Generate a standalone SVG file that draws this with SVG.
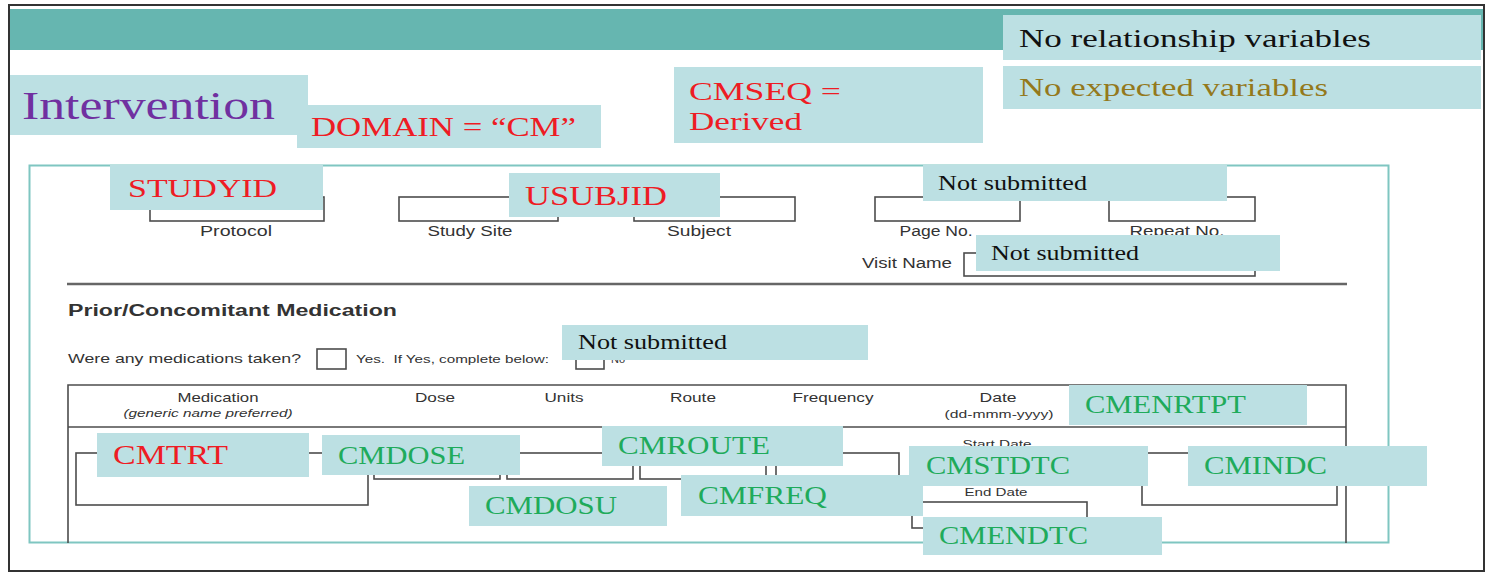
<svg xmlns="http://www.w3.org/2000/svg" width="1489" height="573" viewBox="0 0 1489 573">
<style>
.box{fill:#bce0e3}
.ser{font-family:"Liberation Serif","Times New Roman",serif}
.red{fill:#ee1c24}
.grn{fill:#1fab5b}
.blk{fill:#111}
.frm{fill:none;stroke:#4d4d4d;stroke-width:1.6}
.ftx{font-family:"Liberation Sans",Arial,sans-serif;fill:#333}
</style>
<rect x="0" y="0" width="1489" height="573" fill="#fff"/>
<rect x="9" y="5" width="1475" height="566" fill="#fff" stroke="#333" stroke-width="2"/>
<rect x="10" y="9" width="1473" height="41" fill="#66b6b0"/>

<g id="form">
  <rect x="29.5" y="165.5" width="1359" height="377" fill="none" stroke="#7fc6c1" stroke-width="2"/>
  <rect class="frm" x="150" y="197" width="174" height="24"/>
  <rect class="frm" x="399" y="197" width="159" height="24"/>
  <rect class="frm" x="634" y="197" width="161" height="24"/>
  <rect class="frm" x="875" y="197" width="145" height="24"/>
  <rect class="frm" x="1109" y="197" width="146" height="24"/>
  <rect class="frm" x="964" y="253" width="291" height="23"/>
  <line x1="67" y1="284" x2="1347" y2="284" stroke="#666" stroke-width="2.5"/>
  <rect class="frm" x="317" y="349" width="29" height="20"/>
  <rect class="frm" x="576" y="349" width="28" height="20"/>
  <path class="frm" d="M68,543 V385 H1346 V543 M68,427 H1346"/>
  <rect class="frm" x="76" y="453" width="292" height="52"/>
  <rect class="frm" x="374" y="453" width="126" height="26"/>
  <rect class="frm" x="507" y="453" width="126" height="26"/>
  <rect class="frm" x="640" y="453" width="126" height="26"/>
  <rect class="frm" x="776" y="453" width="123" height="26"/>
  <rect class="frm" x="912" y="502" width="175" height="26"/>
  <rect class="frm" x="1142" y="453" width="195" height="52"/>

  <g class="ftx" font-size="14" text-anchor="middle">
    <text x="236" y="236" textLength="72" lengthAdjust="spacingAndGlyphs">Protocol</text>
    <text x="470" y="236" textLength="85" lengthAdjust="spacingAndGlyphs">Study Site</text>
    <text x="699" y="236" textLength="64" lengthAdjust="spacingAndGlyphs">Subject</text>
    <text x="936" y="236" textLength="73" lengthAdjust="spacingAndGlyphs">Page No.</text>
    <text x="1177" y="236" textLength="95" lengthAdjust="spacingAndGlyphs">Repeat No.</text>
  </g>
  <text class="ftx" x="862" y="268" font-size="14" textLength="90" lengthAdjust="spacingAndGlyphs">Visit Name</text>
  <text class="ftx" x="68" y="316" font-size="16" font-weight="bold" fill="#222" textLength="329" lengthAdjust="spacingAndGlyphs">Prior/Concomitant Medication</text>
  <text class="ftx" x="68" y="363" font-size="13" textLength="233" lengthAdjust="spacingAndGlyphs">Were any medications taken?</text>
  <text class="ftx" x="356" y="363" font-size="11" style="white-space:pre" textLength="193" lengthAdjust="spacingAndGlyphs">Yes.  If Yes, complete below:</text>
  <text class="ftx" x="611" y="363" font-size="11">No</text>
  <g class="ftx" font-size="13" text-anchor="middle">
    <text x="218" y="402" textLength="81" lengthAdjust="spacingAndGlyphs">Medication</text>
    <text x="435" y="402" textLength="40" lengthAdjust="spacingAndGlyphs">Dose</text>
    <text x="564" y="402" textLength="39" lengthAdjust="spacingAndGlyphs">Units</text>
    <text x="693" y="402" textLength="46" lengthAdjust="spacingAndGlyphs">Route</text>
    <text x="833" y="402" textLength="81" lengthAdjust="spacingAndGlyphs">Frequency</text>
    <text x="998" y="402" textLength="37" lengthAdjust="spacingAndGlyphs">Date</text>
    <text x="208" y="417" font-size="10.5" font-style="italic" textLength="169" lengthAdjust="spacingAndGlyphs">(generic name preferred)</text>
    <text x="999" y="418" font-size="10.5" textLength="109" lengthAdjust="spacingAndGlyphs">(dd-mmm-yyyy)</text>
    <text x="997" y="448" font-size="11" textLength="69" lengthAdjust="spacingAndGlyphs">Start Date</text>
    <text x="996" y="496" font-size="11" textLength="63" lengthAdjust="spacingAndGlyphs">End Date</text>
  </g>
</g>

<g id="connectors"></g>

<g id="n-norel">
  <rect class="box" x="1003" y="15" width="478" height="45"/>
  <text class="ser blk" x="1019" y="47" font-size="26" textLength="352" lengthAdjust="spacingAndGlyphs">No relationship variables</text>
</g>
<g id="n-noexp">
  <rect class="box" x="1003" y="66" width="478" height="43"/>
  <text class="ser" x="1019" y="96" font-size="26" fill="#94791c" textLength="309" lengthAdjust="spacingAndGlyphs">No expected variables</text>
</g>
<g id="n-intervention">
  <rect class="box" x="10" y="75" width="298" height="60"/>
  <text class="ser" x="22" y="119" font-size="40" fill="#7030a0" textLength="253" lengthAdjust="spacingAndGlyphs">Intervention</text>
</g>
<g id="n-domain">
  <rect class="box" x="297" y="105" width="304" height="43"/>
  <text class="ser red" x="311" y="136" font-size="27" textLength="265" lengthAdjust="spacingAndGlyphs">DOMAIN = “CM”</text>
</g>
<g id="n-cmseq">
  <rect class="box" x="674" y="67" width="309" height="76"/>
  <text class="ser red" x="689" y="100" font-size="26" textLength="152" lengthAdjust="spacingAndGlyphs">CMSEQ =</text>
  <text class="ser red" x="689" y="130" font-size="26" textLength="113" lengthAdjust="spacingAndGlyphs">Derived</text>
</g>
<g id="n-studyid">
  <rect class="box" x="110" y="165" width="213" height="45"/>
  <text class="ser red" x="128" y="197" font-size="26" textLength="149" lengthAdjust="spacingAndGlyphs">STUDYID</text>
</g>
<g id="n-usubjid">
  <rect class="box" x="509" y="173" width="211" height="44"/>
  <text class="ser red" x="525" y="205" font-size="27" textLength="142" lengthAdjust="spacingAndGlyphs">USUBJID</text>
</g>
<g id="n-notsub1">
  <rect class="box" x="923" y="165" width="304" height="36"/>
  <text class="ser blk" x="938" y="190" font-size="20" textLength="149" lengthAdjust="spacingAndGlyphs">Not submitted</text>
</g>
<g id="n-notsub2">
  <rect class="box" x="976" y="235" width="304" height="36"/>
  <text class="ser blk" x="991" y="260" font-size="20" textLength="148" lengthAdjust="spacingAndGlyphs">Not submitted</text>
</g>
<g id="n-notsub3">
  <rect class="box" x="562" y="325" width="306" height="35"/>
  <text class="ser blk" x="578" y="349" font-size="20" textLength="149" lengthAdjust="spacingAndGlyphs">Not submitted</text>
</g>
<g id="n-cmenrtpt">
  <rect class="box" x="1069" y="385" width="238" height="40"/>
  <text class="ser grn" x="1085" y="413" font-size="26" textLength="161" lengthAdjust="spacingAndGlyphs">CMENRTPT</text>
</g>
<g id="n-cmtrt">
  <rect class="box" x="97" y="433" width="212" height="44"/>
  <text class="ser red" x="113" y="464" font-size="27" textLength="115" lengthAdjust="spacingAndGlyphs">CMTRT</text>
</g>
<g id="n-cmdose">
  <rect class="box" x="322" y="435" width="198" height="40"/>
  <text class="ser grn" x="338" y="464" font-size="26" textLength="127" lengthAdjust="spacingAndGlyphs">CMDOSE</text>
</g>
<g id="n-cmroute">
  <rect class="box" x="602" y="426" width="241" height="40"/>
  <text class="ser grn" x="618" y="454" font-size="26" textLength="152" lengthAdjust="spacingAndGlyphs">CMROUTE</text>
</g>
<g id="n-cmdosu">
  <rect class="box" x="469" y="486" width="198" height="40"/>
  <text class="ser grn" x="485" y="514" font-size="26" textLength="132" lengthAdjust="spacingAndGlyphs">CMDOSU</text>
</g>
<g id="n-cmfreq">
  <rect class="box" x="681" y="475" width="242" height="41"/>
  <text class="ser grn" x="698" y="504" font-size="26" textLength="129" lengthAdjust="spacingAndGlyphs">CMFREQ</text>
</g>
<g id="n-cmstdtc">
  <rect class="box" x="909" y="446" width="239" height="40"/>
  <text class="ser grn" x="926" y="474" font-size="26" textLength="144" lengthAdjust="spacingAndGlyphs">CMSTDTC</text>
</g>
<g id="n-cmindc">
  <rect class="box" x="1188" y="446" width="239" height="40"/>
  <text class="ser grn" x="1204" y="474" font-size="26" textLength="123" lengthAdjust="spacingAndGlyphs">CMINDC</text>
</g>
<g id="n-cmendtc">
  <rect class="box" x="923" y="517" width="239" height="38"/>
  <text class="ser grn" x="939" y="544" font-size="26" textLength="149" lengthAdjust="spacingAndGlyphs">CMENDTC</text>
</g>
</svg>
